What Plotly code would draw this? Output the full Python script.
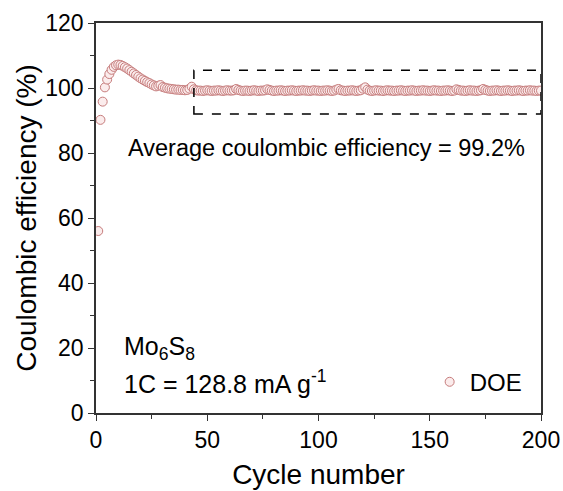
import plotly.graph_objects as go

cycles = list(range(1, 201))
efficiency = [
    56.0, 90.2, 95.8, 100.2, 102.6, 104.3, 105.6, 106.5, 107.0, 107.2,
    107.1, 106.8, 106.4, 106.0, 105.5, 105.0, 104.5, 104.0, 103.5, 103.0,
    102.6, 102.2, 101.8, 101.5, 101.1, 100.8, 100.5, 100.7, 100.9, 100.3,
    100.1, 99.9, 99.8, 99.7, 99.6, 99.5, 99.5, 99.4, 99.4, 99.3,
    99.4, 99.8, 100.4, 99.6, 99.3, 99.2, 99.2, 99.1, 99.2, 99.3,
    99.2, 99.1, 99.2, 99.2, 99.3, 99.2, 99.1, 99.2, 99.3, 99.2,
    99.2, 99.3, 99.7, 99.4, 99.2, 99.1, 99.2, 99.2, 99.1, 99.2,
    99.3, 99.2, 99.1, 99.2, 99.2, 99.3, 99.6, 99.4, 99.2, 99.1,
    99.2, 99.2, 99.3, 99.2, 99.1, 99.2, 99.2, 99.3, 99.2, 99.1,
    99.2, 99.2, 99.3, 99.2, 99.2, 99.1, 99.2, 99.3, 99.2, 99.2,
    99.1, 99.2, 99.2, 99.3, 99.2, 99.1, 99.2, 99.5, 99.7, 99.3,
    99.2, 99.1, 99.2, 99.2, 99.3, 99.2, 99.1, 99.2, 99.3, 99.8,
    100.2, 99.5, 99.2, 99.1, 99.2, 99.3, 99.2, 99.2, 99.1, 99.2,
    99.3, 99.2, 99.2, 99.1, 99.2, 99.2, 99.3, 99.2, 99.1, 99.2,
    99.2, 99.3, 99.2, 99.1, 99.2, 99.2, 99.3, 99.2, 99.2, 99.1,
    99.2, 99.3, 99.2, 99.2, 99.1, 99.2, 99.2, 99.3, 99.2, 99.1,
    99.2, 99.6, 99.4, 99.2, 99.2, 99.1, 99.2, 99.3, 99.2, 99.2,
    99.1, 99.2, 99.3, 99.7, 99.4, 99.2, 99.1, 99.2, 99.2, 99.3,
    99.2, 99.1, 99.2, 99.2, 99.3, 99.2, 99.1, 99.2, 99.2, 99.3,
    99.2, 99.1, 99.2, 99.2, 99.3, 99.2, 99.2, 99.1, 99.2, 99.2,
]
series_name = "DOE"
x_ticks = [0, 50, 100, 150, 200]
y_ticks = [0, 20, 40, 60, 80, 100, 120]

font_family = "Liberation Sans, Arial, sans-serif"

fig = go.Figure()
fig.add_trace(go.Scatter(
    x=cycles, y=efficiency, mode="markers", name=series_name,
    marker=dict(symbol="circle", size=9, color="rgba(251,236,236,1)",
                line=dict(color="#c67c7c", width=1)),
))

fig.add_shape(type="rect", xref="x", yref="y", x0=44, x1=200, y0=92, y1=105.5,
              line=dict(color="black", width=1.5, dash="dash"))

fig.add_annotation(text="Average coulombic efficiency = 99.2%", xref="paper", yref="paper",
                   x=0.519, y=0.679, xanchor="center", yanchor="middle",
                   showarrow=False, font=dict(size=23.5, color="black"))
fig.add_annotation(text="Mo<sub>6</sub>S<sub>8</sub>", xref="paper", yref="paper",
                   x=0.058, y=0.167, xanchor="left", yanchor="middle",
                   showarrow=False, font=dict(size=25, color="black"))
fig.add_annotation(text="1C = 128.8 mA g<sup>-1</sup>", xref="paper", yref="paper",
                   x=0.058, y=0.079, xanchor="left", yanchor="middle",
                   showarrow=False, font=dict(size=25, color="black"))

axis_common = dict(showline=True, linecolor="#333333", linewidth=1.5, mirror=True,
                   ticks="outside", ticklen=6, tickwidth=1.2, tickcolor="#333333",
                   showgrid=False, zeroline=False, automargin=False,
                   tickfont=dict(size=23, color="black"))

fig.update_xaxes(range=[0, 200], tickvals=x_ticks,
                 minor=dict(ticks="outside", ticklen=4, tickwidth=1.2, tickcolor="#333333", dtick=25),
                 title=dict(text="Cycle number", font=dict(size=28, color="black"), standoff=12),
                 **axis_common)
fig.update_yaxes(range=[0, 120], tickvals=y_ticks,
                 minor=dict(ticks="outside", ticklen=4, tickwidth=1.2, tickcolor="#333333", dtick=10),
                 title=dict(text="Coulombic efficiency (%)", font=dict(size=28, color="black"), standoff=0),
                 **axis_common)

fig.update_layout(
    width=563, height=491,
    margin=dict(l=96, r=22, t=23, b=78),
    paper_bgcolor="white", plot_bgcolor="white",
    font=dict(family=font_family, color="black"),
    showlegend=True,
    legend=dict(x=0.97, y=0.079, xanchor="right", yanchor="middle",
                bgcolor="rgba(0,0,0,0)", font=dict(size=24, color="black"),
                itemwidth=30),
)

fig.write_html("out.html")
